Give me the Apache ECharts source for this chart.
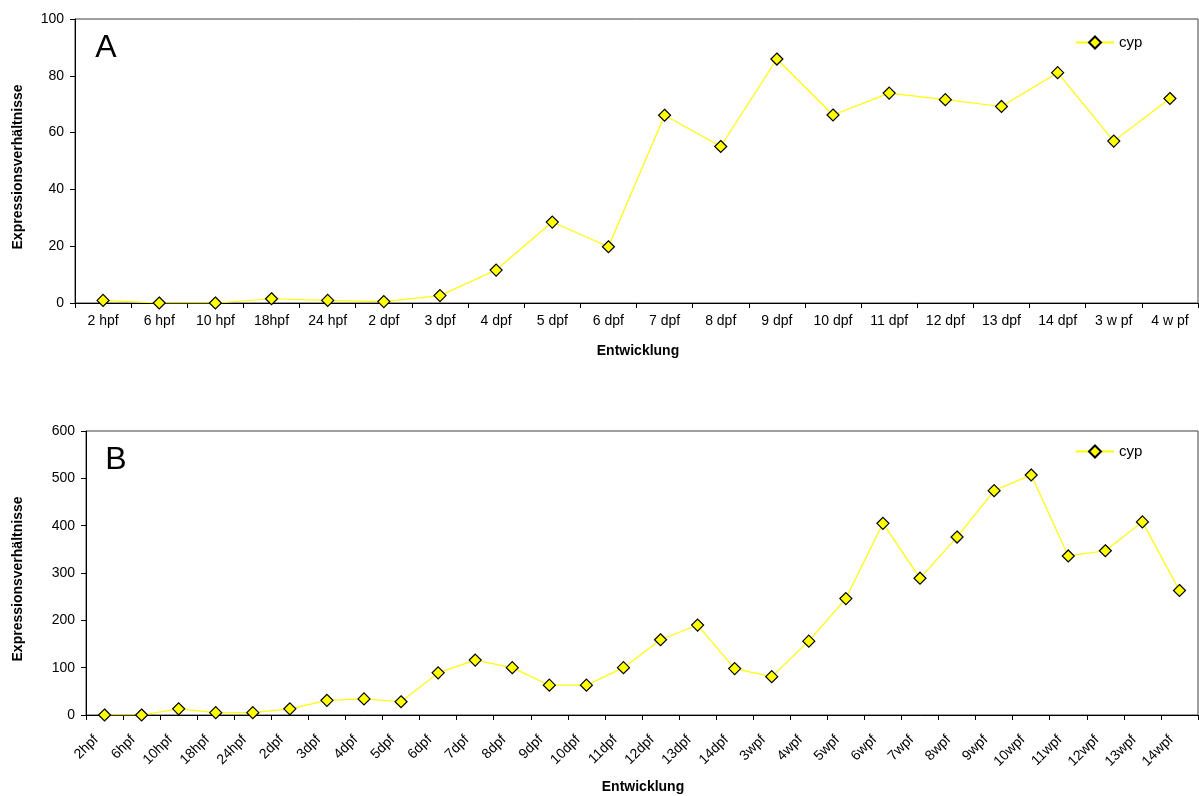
<!DOCTYPE html>
<html>
<head>
<meta charset="utf-8">
<script src="https://cdn.jsdelivr.net/npm/echarts@6/dist/echarts.min.js"></script>
<style>
  html, body { margin: 0; padding: 0; background: #fff; }
  #chart { width: 1199px; height: 796px; }
</style>
</head>
<body>
<div id="chart"></div>
<script>
// Panel A
var catsA = ['2 hpf', '6 hpf', '10 hpf', '18hpf', '24 hpf', '2 dpf', '3 dpf', '4 dpf', '5 dpf', '6 dpf',
  '7 dpf', '8 dpf', '9 dpf', '10 dpf', '11 dpf', '12 dpf', '13 dpf', '14 dpf', '3 w pf', '4 w pf'];
var valsA = [0.9, 0, 0, 1.5, 0.9, 0.5, 2.6, 11.6, 28.5, 19.8,
  66.1, 55.1, 85.9, 66.2, 73.9, 71.6, 69.2, 81.1, 57.0, 72.0];

// Panel B
var catsB = ['2hpf', '6hpf', '10hpf', '18hpf', '24hpf', '2dpf', '3dpf', '4dpf', '5dpf', '6dpf',
  '7dpf', '8dpf', '9dpf', '10dpf', '11dpf', '12dpf', '13dpf', '14dpf', '3wpf', '4wpf',
  '5wpf', '6wpf', '7wpf', '8wpf', '9wpf', '10wpf', '11wpf', '12wpf', '13wpf', '14wpf'];
var valsB = [0, 0, 13, 5, 5, 13, 31, 34, 28, 89,
  116, 100, 63, 63, 100, 159, 190, 98, 81, 156,
  246, 405, 289, 376, 474, 507, 336, 347, 408, 263];

var seriesName = 'cyp';
var font = 'Liberation Sans, Arial, sans-serif';

var myChart = echarts.init(document.getElementById('chart'));

function xAxisCfg(idx, cats, rotate) {
  return {
    type: 'category',
    gridIndex: idx,
    data: cats,
    boundaryGap: true,
    axisLine: { lineStyle: { color: '#000', width: 1 } },
    axisTick: { show: true, length: 5, lineStyle: { color: '#000' } },
    axisLabel: {
      interval: 0,
      rotate: rotate,
      margin: rotate ? 14 : 11,
      padding: rotate ? [0, 12, 0, 0] : 0,
      color: '#000',
      fontSize: 14,
      fontFamily: font
    },
    splitLine: { show: false }
  };
}

function yAxisCfg(idx, max, interval) {
  return {
    type: 'value',
    gridIndex: idx,
    min: 0,
    max: max,
    interval: interval,
    axisLine: { show: true, lineStyle: { color: '#000', width: 1 } },
    axisTick: { show: true, length: 5, lineStyle: { color: '#000' } },
    axisLabel: { color: '#000', fontSize: 14, fontFamily: font, margin: 11 },
    splitLine: { show: false }
  };
}

function seriesCfg(idx, data) {
  return {
    name: seriesName,
    type: 'line',
    xAxisIndex: idx,
    yAxisIndex: idx,
    data: data,
    symbol: 'diamond',
    symbolSize: 12,
    lineStyle: { color: '#ffff00', width: 1.2 },
    itemStyle: { color: '#ffff00', borderColor: '#000', borderWidth: 1.2 },
    emphasis: { disabled: true },
    z: 3
  };
}

var legendCfg = function (top) {
  return {
    left: 1075,
    top: top,
    padding: 0,
    itemWidth: 38,
    itemHeight: 15,
    itemGap: 6,
    textStyle: { color: '#000', fontSize: 15, fontFamily: font },
    data: [seriesName]
  };
};

function txt(x, y, text, size, bold, rot) {
  return {
    type: 'text',
    x: x,
    y: y,
    rotation: rot || 0,
    style: {
      text: text,
      fill: '#000',
      font: (bold ? 'bold ' : '') + size + 'px ' + font,
      align: 'center',
      verticalAlign: 'middle'
    }
  };
}

var option = {
  animation: false,
  backgroundColor: '#fff',
  grid: [
    { left: 75, right: 1, top: 19, height: 284, show: true, borderColor: '#404040', borderWidth: 1, backgroundColor: '#fff' },
    { left: 86, right: 1, top: 431, height: 284, show: true, borderColor: '#404040', borderWidth: 1, backgroundColor: '#fff' }
  ],
  legend: [legendCfg(35), legendCfg(444)],
  xAxis: [xAxisCfg(0, catsA, 0), xAxisCfg(1, catsB, 45)],
  yAxis: [yAxisCfg(0, 100, 20), yAxisCfg(1, 600, 100)],
  series: [seriesCfg(0, valsA), seriesCfg(1, valsB)],
  graphic: [
    txt(106, 48, 'A', 32, false),
    txt(116, 460, 'B', 32, false),
    txt(18, 167, 'Expressionsverhältnisse', 14, true, Math.PI / 2),
    txt(18, 579, 'Expressionsverhältnisse', 14, true, Math.PI / 2),
    txt(638, 351, 'Entwicklung', 14, true),
    txt(643, 787, 'Entwicklung', 14, true)
  ]
};

myChart.setOption(option);
</script>
</body>
</html>
